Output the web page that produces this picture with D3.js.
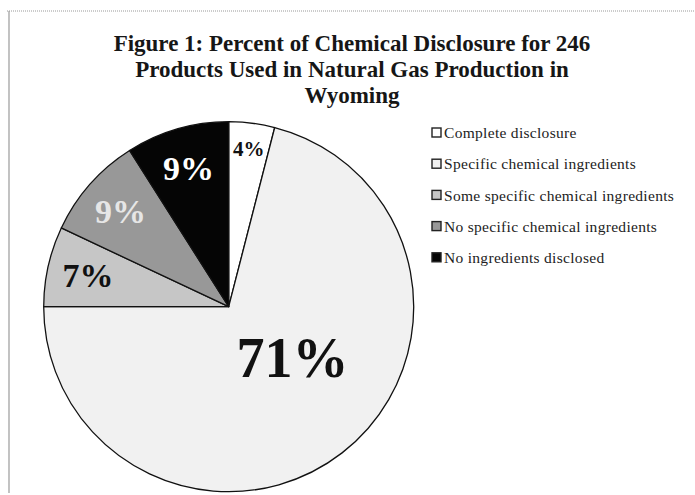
<!DOCTYPE html>
<html>
<head>
<meta charset="utf-8">
<script src="https://cdn.jsdelivr.net/npm/d3@7/dist/d3.min.js"></script>
<style>
  html, body { margin: 0; padding: 0; background: #fff; }
  svg { display: block; }
</style>
</head>
<body>
<svg id="chart" width="695" height="495"></svg>
<script>
// Disclosure categories, in the order the slices run clockwise from 12 o'clock
const categories = [
  "Complete disclosure",
  "Specific chemical ingredients",
  "Some specific chemical ingredients",
  "No specific chemical ingredients",
  "No ingredients disclosed"
];
// Share of the 246 products in each category (percent)
const percents = [4, 71, 7, 9, 9];
const titleLines = [
  "Figure 1: Percent of Chemical Disclosure for 246",
  "Products Used in Natural Gas Production in",
  "Wyoming"
];

const W = 695, H = 495;
const svg = d3.select("#chart");

const fills = ["#ffffff", "#f1f1f1", "#c6c6c6", "#989898", "#050505"];
const labelFills = ["#111", "#111", "#111", "#e6e6e6", "#ffffff"];

const data = categories.map((c, i) => ({ name: c, value: percents[i], fill: fills[i], labelFill: labelFills[i] }));

// chart frame (left and top edges)
svg.append("line").attr("x1", 7).attr("x2", W).attr("y1", 11).attr("y2", 11)
  .attr("stroke", "#9a9a9a").attr("stroke-width", 1.2).attr("stroke-dasharray", "1 1");
svg.append("line").attr("x1", 9).attr("x2", 9).attr("y1", 11).attr("y2", 493)
  .attr("stroke", "#9a9a9a").attr("stroke-width", 1.2);

// title
svg.append("g").selectAll("text").data(titleLines).join("text")
  .attr("x", 352)
  .attr("y", (d, i) => 51 + i * 26)
  .attr("text-anchor", "middle")
  .attr("font-family", "'Liberation Serif', 'Times New Roman', serif")
  .attr("font-weight", "bold")
  .attr("font-size", 23)
  .attr("fill", "#161616")
  .text(d => d);

// pie
const cx = 228.7, cy = 306.7, R = 185;
const pie = d3.pie().value(d => d.value).sort(null);
const arcs = pie(data);
const arc = d3.arc().innerRadius(0).outerRadius(R);

const g = svg.append("g").attr("transform", `translate(${cx},${cy})`);
g.selectAll("path").data(arcs).join("path")
  .attr("d", arc)
  .attr("fill", d => d.data.fill)
  .attr("stroke", "#111")
  .attr("stroke-width", 1.3)
  .attr("stroke-linejoin", "round");

// labels: small slices tucked inside the rim, the dominant slice further in
const labelSize = v => v < 5 ? 21 : (v < 50 ? 34 : 56);
const labelPos = d => {
  const mid = (d.startAngle + d.endAngle) / 2;
  let a = mid, r;
  if (d.data.value > 50) {
    a = mid - 0.24;          // toward the right half of the big slice
    r = R * 0.44;
  } else {
    r = R - 1.2 * labelSize(d.data.value);
  }
  return [Math.sin(a) * r, -Math.cos(a) * r];
};

g.selectAll("text.lbl").data(arcs).join("text")
  .attr("class", "lbl")
  .attr("transform", d => `translate(${labelPos(d)})`)
  .attr("text-anchor", "middle")
  .attr("dy", "0.35em")
  .attr("font-family", "'Liberation Serif', 'Times New Roman', serif")
  .attr("font-weight", "bold")
  .attr("font-size", d => labelSize(d.data.value))
  .attr("fill", d => d.data.labelFill)
  .text(d => d.data.value + "%");

// legend
const legend = svg.append("g").attr("transform", "translate(432,133)");
const rows = legend.selectAll("g").data(data).join("g")
  .attr("transform", (d, i) => `translate(0,${i * 31.2})`);
rows.append("rect")
  .attr("x", 0).attr("y", -5).attr("width", 9).attr("height", 9)
  .attr("fill", d => d.fill)
  .attr("stroke", "#222").attr("stroke-width", 1.4);
rows.append("text")
  .attr("x", 12).attr("dy", "0.33em")
  .attr("font-family", "'Liberation Serif', 'Times New Roman', serif")
  .attr("font-size", 15.5)
  .attr("letter-spacing", 0.3)
  .attr("fill", "#222")
  .text(d => d.name);
</script>
</body>
</html>
